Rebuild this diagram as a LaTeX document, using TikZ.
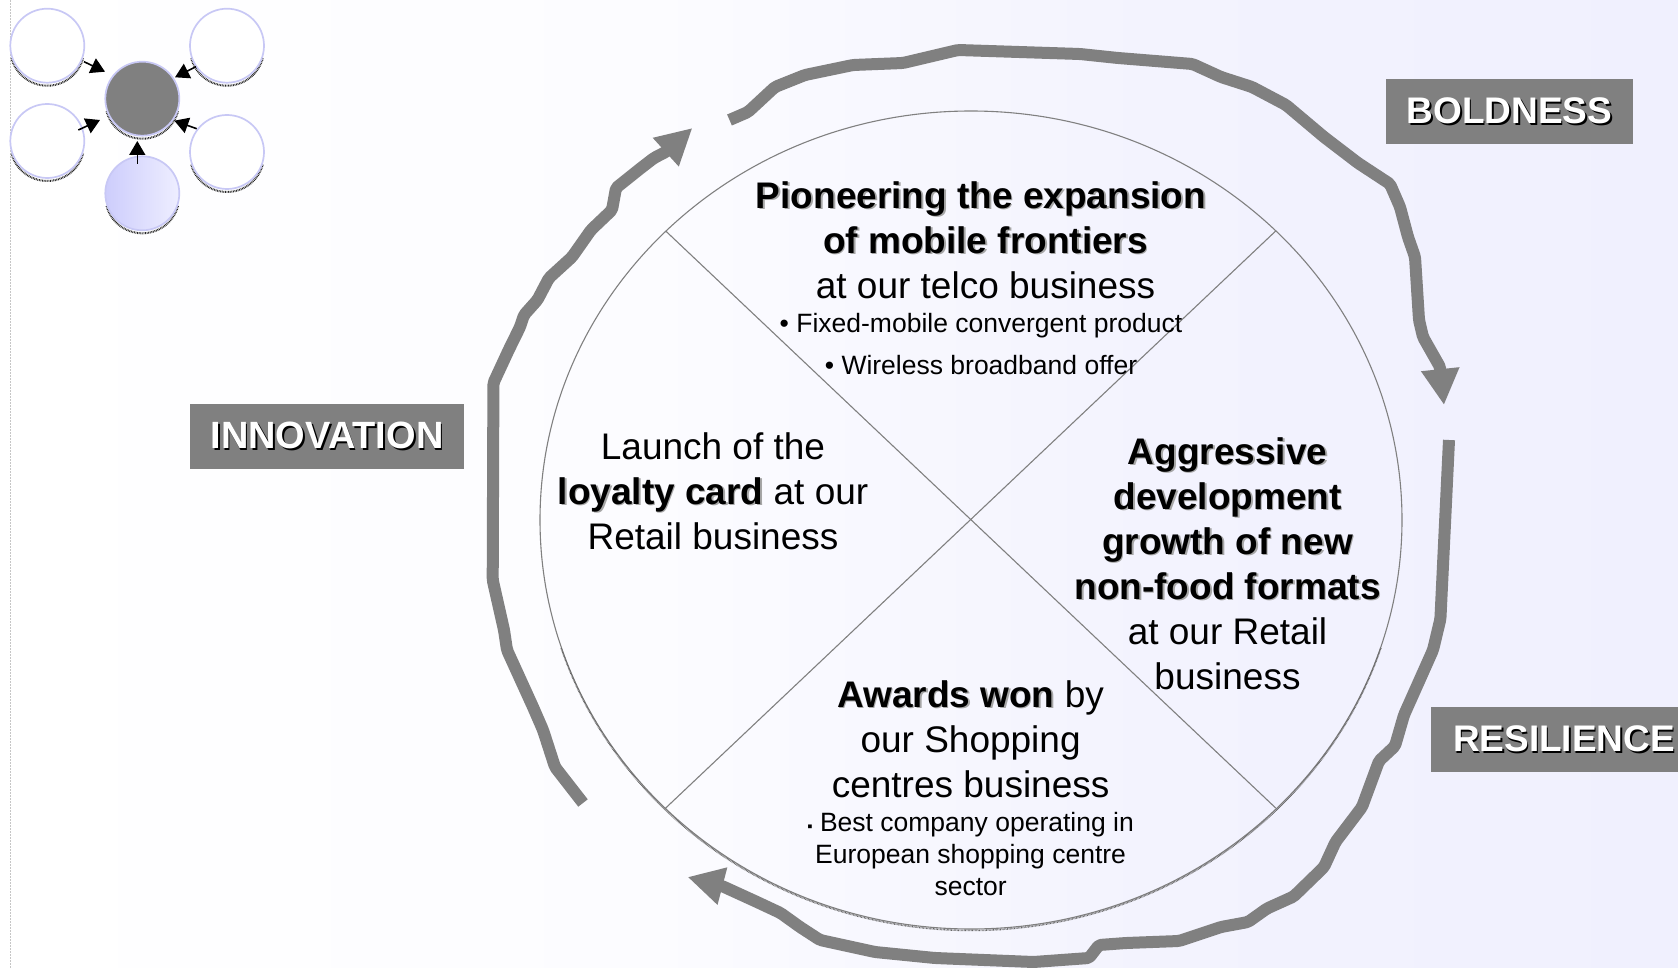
\documentclass[tikz,border=0pt]{standalone}
\usepackage{fontspec}
\setmainfont{Liberation Sans}
\usetikzlibrary{arrows.meta}
\definecolor{bgm}{RGB}{252,252,255}
\definecolor{bgn}{RGB}{243,243,254}
\definecolor{bgr}{RGB}{240,240,254}
\definecolor{lab}{RGB}{128,128,128}
\definecolor{ring}{RGB}{200,200,245}
\definecolor{dl}{RGB}{205,205,252}
\definecolor{dr}{RGB}{238,238,255}
\newcommand\shd[2]{\leavevmode\rlap{\kern1.6pt\raisebox{-1.6pt}{\textcolor{#1}{#2}}}#2}
\newcommand\bsh[1]{\textbf{\shd{black!35}{#1}}}
\tikzset{
  bigtxt/.style={align=center,inner sep=0pt,font=\fontsize{37}{45}\selectfont},
  smalltxt/.style={align=center,inner sep=0pt,font=\fontsize{26.5}{32}\selectfont},
  lbl/.style={fill=lab,inner sep=0pt,text=white,font=\fontsize{37}{43}\selectfont\bfseries,minimum height=65pt},
  wheel/.style={draw=gray,line width=1.1pt},
  sweep/.style={draw=lab,line width=12pt,rounded corners=2pt,line join=round},
  sweeptip/.style={sweep,-{Triangle[length=36pt,width=36pt]}},
  disc/.style={circle,draw=ring,line width=1.7pt,minimum size=74pt,inner sep=0pt},
  mini/.style={line width=1.6pt,-{Triangle[length=14pt,width=16pt]}},
  speck/.style={line width=2pt,black!85,dash pattern=on .8pt off .8pt},
}
\begin{document}
\begin{tikzpicture}[x=1pt,y=-1pt]
\useasboundingbox (0,0) rectangle (1678,968);
\shade[left color=white,right color=bgm] (11,0) rectangle (650,968);
\shade[left color=bgm,right color=bgn] (649.5,0) rectangle (1150,968);
\shade[left color=bgn,right color=bgr] (1149.5,0) rectangle (1678,968);
\fill[white] (0,0) rectangle (11,968);
\draw[gray!45,line width=.8pt,dash pattern=on 2pt off 1pt] (10.5,0) -- (10.5,968);

% wheel
\draw[wheel] (971,520) ellipse [x radius=431,y radius=409];
\draw[line width=1.5pt,black!60,dash pattern=on .7pt off .7pt]
  plot[domain=18:162,samples=120] ({971+431*cos(\x)},{521.5+409*sin(\x)});
\coordinate (ctr) at (970.7,520);
\coordinate (nw) at (665.7,231);
\coordinate (ne) at (1275.7,231);
\coordinate (sw) at (665.7,808);
\coordinate (se) at (1275.7,808);
\draw[wheel] (nw) -- (se);
\draw[wheel] (ne) -- (sw);

% sweeping arrows
\draw[sweeptip] (729.5,120) -- (748,112) -- (775,87) -- (805,75) -- (853,65) -- (903,63) -- (958,50)
  -- (1080,54) -- (1118,58) -- (1192.5,64) -- (1221,77) -- (1252,87) -- (1286,105) -- (1324,137)
  -- (1358,163) -- (1390,184) -- (1400,207) -- (1408,237) -- (1415,257) -- (1419,320) -- (1423,337)
  -- (1440,367) -- (1444,405);
\draw[sweeptip] (1449,440) -- (1440.4,619) -- (1433,650) -- (1404,715) -- (1395,746) -- (1379,761)
  -- (1362,807) -- (1335.5,842) -- (1324,867) -- (1293.6,896.5) -- (1267,908.5) -- (1248,922)
  -- (1221,927) -- (1179,941) -- (1126,943) -- (1099,945) -- (1089,958) -- (1033.6,962)
  -- (935,958) -- (875,952) -- (820,940) -- (800,927) -- (780.5,913) -- (757,902) -- (722,886) -- (687.6,877);
\draw[sweeptip] (583,803) -- (555,767) -- (543,730) -- (533,707) -- (517.5,673) -- (507,650)
  -- (504,630) -- (492.7,580) -- (493.4,383) -- (508.7,350) -- (520,327) -- (524,315) -- (537.4,300)
  -- (549,278) -- (572,257) -- (591,230) -- (612,210) -- (616,188) -- (641,168) -- (654,158)
  -- (666.5,151.5) -- (692.4,128);

% labels
\node[lbl,minimum width=247pt] (bold) at (1509.5,111.5) {\raisebox{-2pt}{\shd{black}{BOLDNESS}}};
\node[lbl,minimum width=274pt,font=\fontsize{38}{43}\selectfont\bfseries] (inno) at (327,436.5) {\raisebox{-1pt}{\shd{black}{INNOVATION}}};
\node[lbl,minimum width=247pt] (resi) at (1554.5,739.5) {\kern19pt\shd{black}{RESILIENCE}};

% quadrant texts
\node[bigtxt] (tq) at (981,240) {\bsh{Pioneering the expansion}\\\kern9pt\bsh{of mobile frontiers}\\\kern9pt at our telco business};
\node[smalltxt] (tq1) at (981,326) {• Fixed-mobile convergent product};
\node[smalltxt] (tq2) at (981,365) {• Wireless broadband offer};
\node[bigtxt] (lq) at (713,491) {Launch of the\\\bsh{loyalty card} at our\\Retail business};
\node[bigtxt] (rq) at (1227.5,563.5) {\bsh{Aggressive}\\\bsh{development}\\\bsh{growth of new}\\\bsh{non-food formats}\\at our Retail\\business};
\node[bigtxt] (bq) at (970.6,739) {\bsh{Awards won} by\\our Shopping\\centres business};
\node[smalltxt] (bq1) at (970.6,853.6) {{\fontsize{15}{32}\selectfont ▪}~Best company operating in\\European shopping centre\\sector};

% icon
\foreach \cx/\cy in {47.3/45.7,227/45.7,47.3/141,227/152,142.3/98.7,142.3/193.3}
  \draw[speck] plot[domain=15:165,samples=60] ({\cx+37*cos(\x)},{\cy+3+37*sin(\x)});
\node[disc,fill=white] (d1) at (47.3,45.7) {};
\node[disc,fill=white] (d2) at (227,45.7) {};
\node[disc,fill=white] (d3) at (47.3,141) {};
\node[disc,fill=white] (d4) at (227,152) {};
\node[disc,fill=lab] (d5) at (142.3,98.7) {};
\node[disc,left color=dl,right color=dr] (d6) at (142.3,193.3) {};
\coordinate (a1) at (84,61.7);   \coordinate (b1) at (105,71.7);
\coordinate (a2) at (196,66.7);  \coordinate (b2) at (175,77.3);
\coordinate (a3) at (78.3,130);  \coordinate (b3) at (100,120);
\coordinate (a4) at (196.7,128.7); \coordinate (b4) at (174.3,120.7);
\coordinate (a5) at (137.3,164); \coordinate (b5) at (137.3,141);
\foreach \i in {1,...,5} \draw[mini] (a\i) -- (b\i);
\end{tikzpicture}
\end{document}
